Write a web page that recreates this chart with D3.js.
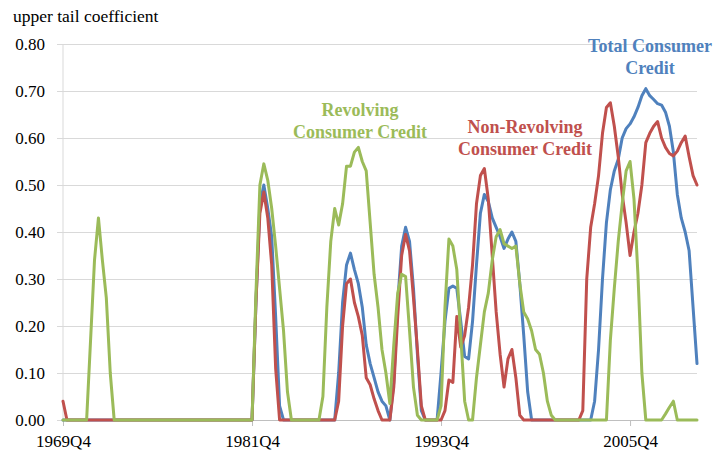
<!DOCTYPE html>
<html>
<head>
<meta charset="utf-8">
<script src="https://cdn.jsdelivr.net/npm/d3@7"></script>
<style>
  body { margin: 0; background: #fff; }
  svg text { font-family: "Liberation Serif", "Times New Roman", serif; fill: #000; }
</style>
</head>
<body>
<div class="chart"></div>
<script>
// quarterly series, 1969Q4 .. 2010Q1
const totalCredit = [
  0, 0, 0, 0, 0, 0, 0, 0, 0, 0,
  0, 0, 0, 0, 0, 0, 0, 0, 0, 0,
  0, 0, 0, 0, 0, 0, 0, 0, 0, 0,
  0, 0, 0, 0, 0, 0, 0, 0, 0, 0,
  0, 0, 0, 0, 0, 0, 0, 0, 0, 0.25,
  0.46, 0.50, 0.45, 0.39, 0.22, 0.03, 0, 0, 0, 0,
  0, 0, 0, 0, 0, 0, 0, 0, 0, 0,
  0.10, 0.25, 0.33, 0.355, 0.32, 0.29, 0.24, 0.16, 0.12, 0.09,
  0.06, 0.04, 0.03, 0, 0.08, 0.25, 0.37, 0.41, 0.38, 0.28,
  0.14, 0.02, 0, 0, 0, 0, 0.10, 0.21, 0.28, 0.285,
  0.28, 0.21, 0.135, 0.13, 0.21, 0.33, 0.44, 0.48, 0.465, 0.43,
  0.41, 0.39, 0.365, 0.385, 0.40, 0.38, 0.29, 0.18, 0.06, 0,
  0, 0, 0, 0, 0, 0, 0, 0, 0, 0,
  0, 0, 0, 0, 0, 0.04, 0.15, 0.30, 0.42, 0.49,
  0.53, 0.555, 0.60, 0.62, 0.63, 0.645, 0.665, 0.69, 0.705, 0.69,
  0.682, 0.673, 0.67, 0.655, 0.625, 0.57, 0.48, 0.43, 0.40, 0.36,
  0.24, 0.12
];

const nonRevolving = [
  0.04, 0, 0, 0, 0, 0, 0, 0, 0, 0,
  0, 0, 0, 0, 0, 0, 0, 0, 0, 0,
  0, 0, 0, 0, 0, 0, 0, 0, 0, 0,
  0, 0, 0, 0, 0, 0, 0, 0, 0, 0,
  0, 0, 0, 0, 0, 0, 0, 0, 0, 0.25,
  0.44, 0.485, 0.43, 0.33, 0.11, 0, 0, 0, 0, 0,
  0, 0, 0, 0, 0, 0, 0, 0, 0, 0,
  0.04, 0.20, 0.29, 0.30, 0.25, 0.22, 0.18, 0.09, 0.075, 0.045,
  0.02, 0, 0, 0, 0.07, 0.22, 0.35, 0.395, 0.36, 0.26,
  0.15, 0.03, 0, 0, 0, 0, 0, 0.02, 0.085, 0.08,
  0.22, 0.155, 0.18, 0.24, 0.33, 0.46, 0.52, 0.535, 0.47, 0.35,
  0.23, 0.14, 0.07, 0.13, 0.15, 0.09, 0.01, 0, 0, 0,
  0, 0, 0, 0, 0, 0, 0, 0, 0, 0,
  0, 0, 0.02, 0.30, 0.41, 0.46, 0.52, 0.61, 0.665, 0.675,
  0.625, 0.56, 0.48, 0.42, 0.35, 0.40, 0.44, 0.50, 0.59, 0.61,
  0.625, 0.635, 0.60, 0.58, 0.567, 0.562, 0.572, 0.59, 0.604, 0.56,
  0.52, 0.50
];

const revolving = [
  0, 0, 0, 0, 0, 0, 0, 0.17, 0.34, 0.43,
  0.34, 0.26, 0.10, 0, 0, 0, 0, 0, 0, 0,
  0, 0, 0, 0, 0, 0, 0, 0, 0, 0,
  0, 0, 0, 0, 0, 0, 0, 0, 0, 0,
  0, 0, 0, 0, 0, 0, 0, 0, 0, 0.27,
  0.50, 0.545, 0.51, 0.45, 0.37, 0.28, 0.19, 0.06, 0, 0,
  0, 0, 0, 0, 0, 0, 0.05, 0.24, 0.38, 0.45,
  0.415, 0.46, 0.54, 0.54, 0.57, 0.58, 0.55, 0.53, 0.42, 0.31,
  0.24, 0.15, 0.10, 0.035, 0.16, 0.27, 0.31, 0.305, 0.19, 0.07,
  0.01, 0, 0, 0, 0, 0, 0.03, 0.24, 0.385, 0.37,
  0.32, 0.18, 0.04, 0, 0, 0.09, 0.16, 0.23, 0.27, 0.34,
  0.39, 0.405, 0.375, 0.37, 0.365, 0.37, 0.29, 0.23, 0.215, 0.19,
  0.15, 0.14, 0.10, 0.04, 0.01, 0, 0, 0, 0, 0,
  0, 0, 0, 0, 0, 0, 0, 0, 0, 0.17,
  0.28, 0.38, 0.46, 0.53, 0.55, 0.47, 0.31, 0.10, 0, 0,
  0, 0, 0, 0.013, 0.027, 0.04, 0, 0, 0, 0,
  0, 0
];

const yTicks = [0, 0.1, 0.2, 0.3, 0.4, 0.5, 0.6, 0.7, 0.8];
const xTickLabels = ['1969Q4', '1981Q4', '1993Q4', '2005Q4'];
const startYear = 1969;
const startQuarter = 4;

const quarters = totalCredit.map((d, i) => {
  const q = startQuarter - 1 + i;
  return `${startYear + Math.floor(q / 4)}Q${(q % 4) + 1}`;
});

if (nonRevolving.length !== quarters.length || revolving.length !== quarters.length) {
  throw new Error('series lengths differ');
}

const serifFont = '"Liberation Serif", "Times New Roman", serif';

const series = [
  { name: 'Total Consumer Credit', values: totalCredit, color: '#4f81bd',
    label: ['Total Consumer', 'Credit'], lx: 650, ly: 52 },
  { name: 'Non-Revolving Consumer Credit', values: nonRevolving, color: '#c0504d',
    label: ['Non-Revolving', 'Consumer Credit'], lx: 525, ly: 133 },
  { name: 'Revolving Consumer Credit', values: revolving, color: '#9bbb59',
    label: ['Revolving', 'Consumer Credit'], lx: 360, ly: 116 },
];

const svgWidth = 715;
const svgHeight = 453;
const margin = { top: 44, right: 18, bottom: 33, left: 63 };
const width = svgWidth - margin.left - margin.right;
const height = svgHeight - margin.top - margin.bottom;

const xScale = d3.scalePoint()
  .domain(quarters)
  .range([0, width]);

const yScale = d3.scaleLinear()
  .domain([0, 0.8])
  .range([height, 0]);

const svg = d3.select('.chart').append('svg')
  .attr('width', svgWidth)
  .attr('height', svgHeight)
  .append('g')
  .attr('transform', `translate(${margin.left}, ${margin.top})`);

// title of the value axis
svg.append('text')
  .attr('x', 13 - margin.left)
  .attr('y', 22 - margin.top)
  .attr('font-family', serifFont)
  .style('font-size', '17.5px')
  .text('upper tail coefficient');

// horizontal gridlines + y labels
const yAxis = svg.append('g')
  .attr('class', 'y axis')
  .call(d3.axisLeft(yScale)
    .tickValues(yTicks)
    .tickSize(-width - 6)
    .tickPadding(12)
    .tickFormat(d3.format('.2f')));
yAxis.attr('font-family', serifFont);
yAxis.select('.domain').remove();
yAxis.selectAll('.tick line')
  .attr('x1', -6)
  .attr('x2', width)
  .attr('stroke', '#d9d9d9');
yAxis.selectAll('.tick text')
  .attr('x', -18)
  .style('font-size', '17px')
  .style('font-family', serifFont);

// vertical axis line
svg.append('line')
  .attr('x1', 0).attr('x2', 0)
  .attr('y1', 0).attr('y2', height)
  .attr('stroke', '#d9d9d9');

// category axis
const xAxis = svg.append('g')
  .attr('class', 'x axis')
  .attr('transform', `translate(0, ${height})`)
  .call(d3.axisBottom(xScale)
    .tickValues(xTickLabels)
    .tickSize(6)
    .tickSizeOuter(0)
    .tickPadding(9));
xAxis.attr('font-family', serifFont);
xAxis.select('.domain').attr('stroke', '#bfbfbf');
xAxis.selectAll('.tick line').attr('stroke', '#bfbfbf');
xAxis.selectAll('.tick text')
  .style('font-size', '17px')
  .style('font-family', serifFont);

const line = d3.line()
  .x((d, i) => xScale(quarters[i]))
  .y((d) => yScale(d));

series.forEach((s) => {
  svg.append('path')
    .datum(s.values)
    .attr('fill', 'none')
    .attr('stroke', s.color)
    .attr('stroke-width', 3)
    .attr('stroke-linejoin', 'round')
    .attr('stroke-linecap', 'round')
    .attr('d', line);
});

series.forEach((s) => {
  const t = svg.append('text')
    .attr('text-anchor', 'middle')
    .attr('x', s.lx - margin.left)
    .attr('y', s.ly - margin.top)
    .attr('font-family', serifFont)
    .style('font-size', '18px')
    .style('font-weight', 'bold')
    .style('fill', s.color);
  s.label.forEach((l, i) => {
    t.append('tspan')
      .attr('x', s.lx - margin.left)
      .attr('dy', i === 0 ? 0 : 21.5)
      .text(l);
  });
});
</script>
</body>
</html>
